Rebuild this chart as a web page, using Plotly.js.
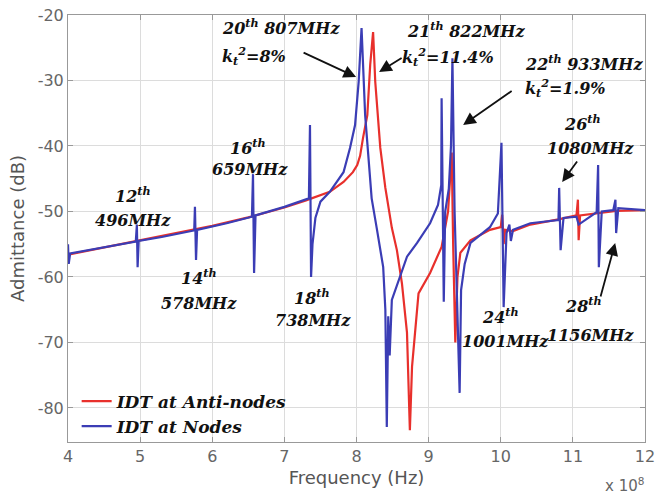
<!DOCTYPE html>
<html>
<head>
<meta charset="utf-8">
<script src="https://cdn.plot.ly/plotly-3.0.1.min.js"></script>
<style>html,body{margin:0;padding:0;background:#fff;}#chart{width:655px;height:495px;}</style>
</head>
<body>
<div id="chart"></div>
<script>
// Frequency in units of 1e8 Hz, admittance in dB
const nodesX = [4.00,4.01,4.03,4.30,4.60,4.94,4.955,4.965,4.98,5.30,5.75,5.76,5.775,5.79,6.20,6.55,6.565,6.58,6.60,7.00,7.34,7.355,7.37,7.39,7.43,7.50,7.63,7.82,7.91,7.98,8.03,8.07,8.12,8.17,8.21,8.28,8.33,8.37,8.40,8.42,8.44,8.46,8.49,8.60,8.70,8.84,9.02,9.13,9.175,9.18,9.21,9.23,9.28,9.31,9.33,9.36,9.40,9.43,9.45,9.50,9.58,9.85,9.96,10.01,10.04,10.08,10.12,10.14,10.17,10.41,10.80,10.81,10.83,10.87,11.05,11.08,11.33,11.35,11.36,11.40,11.56,11.59,11.60,11.63,12.00];
const nodesY = [-55.0,-58.0,-56.4,-55.9,-55.3,-54.6,-52.0,-58.5,-54.5,-53.9,-52.9,-49.3,-57.4,-52.8,-51.8,-50.8,-44.3,-59.4,-50.6,-49.3,-48.0,-36.8,-60.0,-55.0,-51.0,-48.5,-47.0,-44.0,-40.3,-36.8,-30.2,-22.0,-35.3,-42.9,-48.0,-52.5,-55.9,-58.5,-65.0,-82.9,-66.0,-72.0,-63.5,-60.0,-56.9,-54.8,-51.8,-49.0,-46.0,-32.7,-63.8,-50.0,-46.5,-40.0,-26.6,-50.0,-65.0,-77.7,-62.0,-58.0,-54.8,-52.4,-50.3,-39.5,-64.6,-53.3,-52.0,-54.5,-52.8,-51.8,-51.3,-46.4,-55.9,-51.0,-50.8,-52.0,-50.1,-42.9,-58.5,-50.0,-49.8,-48.2,-53.3,-49.5,-49.8];

const antiX = [4.00,4.50,5.00,5.50,6.00,6.50,7.00,7.30,7.63,7.82,7.95,8.01,8.05,8.09,8.15,8.19,8.23,8.26,8.33,8.40,8.49,8.56,8.63,8.70,8.74,8.77,8.86,9.02,9.18,9.27,9.30,9.32,9.34,9.37,9.40,9.44,9.58,9.85,10.00,10.02,10.04,10.06,10.17,10.41,10.80,11.05,11.07,11.08,11.10,11.60,12.00];
const antiY = [-56.6,-55.5,-54.4,-53.3,-52.2,-50.9,-49.4,-48.3,-47.0,-45.5,-44.0,-42.9,-41.5,-38.8,-35.3,-27.6,-22.6,-30.2,-40.3,-46.4,-52.5,-55.9,-61.0,-68.5,-83.4,-73.7,-62.5,-59.4,-55.4,-50.0,-44.7,-41.0,-55.0,-70.0,-60.0,-56.3,-54.4,-52.8,-52.4,-50.5,-55.0,-52.8,-53.0,-52.0,-51.2,-50.6,-48.2,-54.4,-50.6,-49.9,-49.8];

const seriesNames = ["IDT at Anti-nodes", "IDT at Nodes"];
const xTicks = [4,5,6,7,8,9,10,11,12];
const yTicks = [-80,-70,-60,-50,-40,-30,-20];

const serif = "DejaVu Serif, Liberation Serif, serif";
const sans = "DejaVu Sans, Liberation Sans, Arial, sans-serif";

// plot-area pixel helpers for annotation placement (paper coords)
function px(x){ return (x-68)/577; }
function py(y){ return (442-y)/427; }

const labels = [
  ["12<sup>th</sup>",133,195,"center"],["496MHz",133,220,"center"],
  ["14<sup>th</sup>",199,277,"center"],["578MHz",199,303,"center"],
  ["16<sup>th</sup>",248,147,"center"],["659MHz",250,170,"center"],
  ["18<sup>th</sup>",312,297,"center"],["738MHz",313,320,"center"],
  ["20<sup>th</sup> 807MHz",220,27,"left"],["k<sub>t</sub><sup>2</sup>=8%",220,56,"left"],
  ["21<sup>th</sup> 822MHz",405,30,"left"],["k<sub>t</sub><sup>2</sup>=11.4%",400,57,"left"],
  ["22<sup>th</sup> 933MHz",523,63,"left"],["k<sub>t</sub><sup>2</sup>=1.9%",523,88,"left"],
  ["26<sup>th</sup>",582,123,"center"],["1080MHz",590,148,"center"],
  ["24<sup>th</sup>",500,316,"center"],["1001MHz",505,341,"center"],
  ["28<sup>th</sup>",583,305,"center"],["1156MHz",590,335,"center"]
];
const annotations = labels.map(l => ({
  text: "<b><i>"+l[0]+"</i></b>", xref:"paper", yref:"paper",
  x: px(l[1]), y: py(l[2]),
  xanchor: l[3], yanchor:"middle", showarrow:false,
  font:{family:serif, size:16, color:"#111"}
}));
// arrows: [tailPx, tailPy, headPx, headPy]
const arrows = [[302,52,356,77],[403,57,379,72],[513,90,463,125],[578,160,562,182],[600,298,615,243]];
arrows.forEach(a => {
  annotations.push({
    xref:"x", yref:"y", axref:"x", ayref:"y",
    x: 4+(a[2]-68)/72.1, y: -20-(a[3]-15)/6.55,
    ax: 4+(a[0]-68)/72.1, ay: -20-(a[1]-15)/6.55,
    text:"", showarrow:true, arrowhead:2, arrowsize:1.4, arrowwidth:1.8, arrowcolor:"#111", standoff:0
  });
});
annotations.push({
  text:"x 10<sup>8</sup>", xref:"paper", yref:"paper", x: px(646), y: py(485),
  xanchor:"right", yanchor:"middle", showarrow:false, font:{family:sans, size:15, color:"#666"}
});

const traces = [
  {x: antiX, y: antiY, name: "<b><i>"+seriesNames[0]+"</i></b>", type:"scatter", mode:"lines",
   line:{color:"#e8302c", width:2.2}},
  {x: nodesX, y: nodesY, name: "<b><i>"+seriesNames[1]+"</i></b>", type:"scatter", mode:"lines",
   line:{color:"#3b3db5", width:2.2}}
];

const layout = {
  width:655, height:495,
  margin:{l:68, r:10, t:15, b:53},
  paper_bgcolor:"#fff", plot_bgcolor:"#fff",
  showlegend:true,
  legend:{x:0.015, y:0.137, xanchor:"left", yanchor:"top", bgcolor:"rgba(255,255,255,0)",
    font:{family:serif, size:17, color:"#111"}, tracegroupgap:0},
  xaxis:{range:[4,12], tickvals:xTicks, ticktext:xTicks.map(String), showgrid:true, gridcolor:"#dcdcdc",
    zeroline:false, showline:true, linecolor:"#999", linewidth:1, mirror:"ticks", ticks:"inside", ticklen:5,
    tickcolor:"#999", tickfont:{family:sans, size:16, color:"#666"}, ticklabeloverflow:"allow",
    title:{text:"Frequency (Hz)", font:{family:sans, size:18, color:"#555"}, standoff:6}},
  yaxis:{range:[-85.2,-20], tickvals:yTicks, ticktext:yTicks.map(String), showgrid:true, gridcolor:"#dcdcdc",
    zeroline:false, showline:true, linecolor:"#999", linewidth:1, mirror:"ticks", ticks:"inside", ticklen:5,
    tickcolor:"#999", tickfont:{family:sans, size:16, color:"#666"}, ticklabeloverflow:"allow",
    title:{text:"Admittance (dB)", font:{family:sans, size:18, color:"#555"}, standoff:8}},
  annotations: annotations
};

Plotly.newPlot("chart", traces, layout, {displayModeBar:false, staticPlot:true});
</script>
</body>
</html>
